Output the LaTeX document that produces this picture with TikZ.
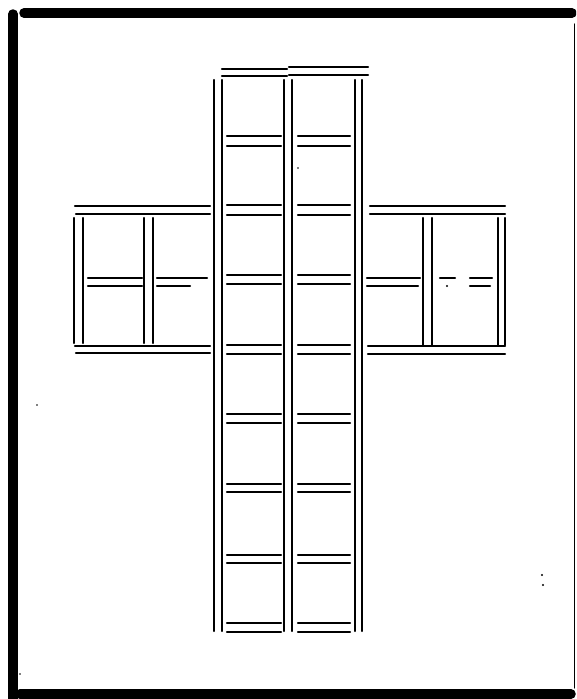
\documentclass[tikz,border=0pt]{standalone}
\begin{document}
\begin{tikzpicture}[x=1pt,y=-1pt,
  ln/.style={line width=2.3pt,line cap=round},
  thin/.style={line width=1.4pt,line cap=round},
  frm/.style={line width=9.5pt,line cap=round}]
\useasboundingbox (0,0) rectangle (576,699);
\begin{scope}
\clip (0,0) rectangle (576,699);
% frame
\draw[frm] (13,14) -- (13,705);
\draw[frm] (24,13) -- (572,13);
\draw[frm] (20,694) -- (571,694);
\draw[thin] (574.5,24) -- (574.5,688);
\end{scope}
% column verticals
\foreach \x in {214,222,284,292,355,362} \draw[ln] (\x,80) -- (\x,631);
% top caps
\draw[ln] (222,69) -- (287,69);
\draw[ln] (222,76) -- (287,76);
\draw[ln] (289,67) -- (368,67);
\draw[ln] (289,75) -- (368,75);
% rungs
\foreach \a/\b in {136/146,205/215,275/284,345/354,414/423,484/492,555/563,623/632}{
  \draw[ln] (227,\a) -- (281,\a);
  \draw[ln] (227,\b) -- (281,\b);
  \draw[ln] (298,\a) -- (350,\a);
  \draw[ln] (298,\b) -- (350,\b);
}
% left arm
\draw[ln] (75,206) -- (210,206);
\draw[ln] (76,214) -- (210,214);
\draw[ln] (75,346) -- (210,346);
\draw[ln] (76,353) -- (210,353);
\foreach \x in {74,83,144,153} \draw[ln] (\x,218) -- (\x,343);
\draw[ln] (88,278) -- (142,278);
\draw[ln] (88,286) -- (142,286);
\draw[ln] (157,278) -- (207,278);
\draw[ln] (157,286) -- (190,286);
% right arm
\draw[ln] (370,206) -- (505,206);
\draw[ln] (370,214) -- (505,214);
\draw[ln] (368,346) -- (505,346);
\draw[ln] (368,354) -- (505,354);
\foreach \x in {423,432,498,505} \draw[ln] (\x,218) -- (\x,345);
\draw[ln] (367,278) -- (420,278);
\draw[ln] (367,286) -- (418,286);
\draw[ln] (440,278) -- (455,278);
\draw[ln] (470,278) -- (492,278);
\draw[ln] (470,286) -- (490,286);
% specks
\fill (542,575) circle (1.2);
\fill (543,585) circle (1.2);
\fill (37,405) circle (0.9);
\fill (20,674) circle (0.8);
\fill (447,286) circle (1.1);
\fill (298,168) circle (0.9);
\end{tikzpicture}
\end{document}
